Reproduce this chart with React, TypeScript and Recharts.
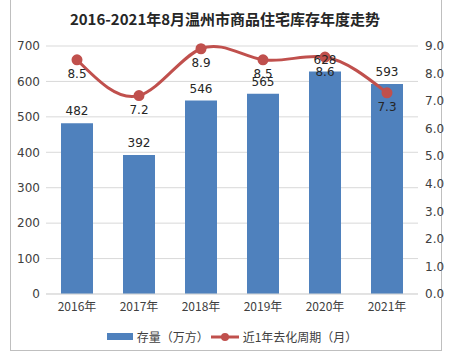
import { ComposedChart, Bar, Line, XAxis, YAxis, CartesianGrid, Legend, LabelList } from 'recharts';

const years = ['2016年', '2017年', '2018年', '2019年', '2020年', '2021年'];
const stock = [482, 392, 546, 565, 628, 593];
const cycle = [8.5, 7.2, 8.9, 8.5, 8.6, 7.3];
const leftTicks = [0, 100, 200, 300, 400, 500, 600, 700];
const rightTicks = [0, 1, 2, 3, 4, 5, 6, 7, 8, 9];

const data = years.map((year, i) => ({ year, stock: stock[i], cycle: cycle[i] }));

const FONT = '"DejaVu Sans", "Noto Sans CJK SC", sans-serif';
const CJK = '"Noto Sans CJK SC", "DejaVu Sans", sans-serif';
const BLUE = '#4F81BD';
const RED = '#C0504D';

function ChartLegend() {
  return (
    <div style={{ display: 'flex', justifyContent: 'center', alignItems: 'center', fontFamily: CJK, fontSize: 12, color: '#404040', paddingLeft: 24 }}>
      <span style={{ display: 'inline-block', width: 26, height: 7, background: BLUE, marginRight: 4 }} />
      <span>存量（万方）</span>
      <svg width={28} height={10} style={{ marginLeft: 2, marginRight: 4 }}>
        <line x1={0} y1={5} x2={28} y2={5} stroke={RED} strokeWidth={3} />
        <circle cx={14} cy={5} r={4} fill={RED} />
      </svg>
      <span>近1年去化周期（月）</span>
    </div>
  );
}

export default function App() {
  return (
    <div style={{ position: 'absolute', left: 0, top: 0, width: 450, height: 364, background: '#fff' }}>
      <div style={{ position: 'absolute', left: 10, top: -1, width: 432, height: 352, border: '1px solid #bfbfbf', boxSizing: 'border-box' }} />
      <div style={{ position: 'absolute', left: 0, top: 8, width: 450, textAlign: 'center', fontFamily: CJK, fontWeight: 'bold', fontSize: 15, color: '#262626' }}>
        2016-2021年8月温州市商品住宅库存年度走势
      </div>
      <ComposedChart
        width={450}
        height={364}
        data={data}
        margin={{ top: 46, right: 10, bottom: 18, left: 0 }}
        barSize={32}
        style={{ position: 'absolute', left: 0, top: 0 }}
      >
        <CartesianGrid yAxisId="left" vertical={false} stroke="#d9d9d9" />
        <XAxis
          dataKey="year"
          axisLine={{ stroke: '#d9d9d9' }}
          tickLine={false}
          tickSize={0}
          tickMargin={8}
          height={34}
          tick={{ fontSize: 12, fill: '#404040', fontFamily: CJK }}
        />
        <YAxis
          yAxisId="left"
          domain={[0, 700]}
          ticks={leftTicks}
          axisLine={false}
          tickLine={false}
          tickSize={0}
          tickMargin={6}
          width={46}
          tick={{ fontSize: 12, fill: '#404040', fontFamily: FONT }}
        />
        <YAxis
          yAxisId="right"
          orientation="right"
          domain={[0, 9]}
          ticks={rightTicks}
          axisLine={false}
          tickLine={false}
          tickSize={0}
          tickMargin={7}
          width={22}
          tickFormatter={(v: number) => v.toFixed(1)}
          tick={{ fontSize: 12, fill: '#404040', fontFamily: FONT }}
        />
        <Legend verticalAlign="bottom" height={18} content={() => <ChartLegend />} />
        <Bar yAxisId="left" dataKey="stock" fill={BLUE} isAnimationActive={false}>
          <LabelList dataKey="stock" position="top" offset={8} style={{ fontSize: 12, fill: '#262626', fontFamily: FONT }} />
        </Bar>
        <Line
          yAxisId="right"
          type="natural"
          dataKey="cycle"
          stroke={RED}
          strokeWidth={3}
          dot={{ r: 4, fill: RED, stroke: RED }}
          isAnimationActive={false}
        >
          <LabelList dataKey="cycle" position="bottom" offset={10} formatter={(v: number) => v.toFixed(1)} style={{ fontSize: 12, fill: '#262626', fontFamily: FONT }} />
        </Line>
      </ComposedChart>
    </div>
  );
}
